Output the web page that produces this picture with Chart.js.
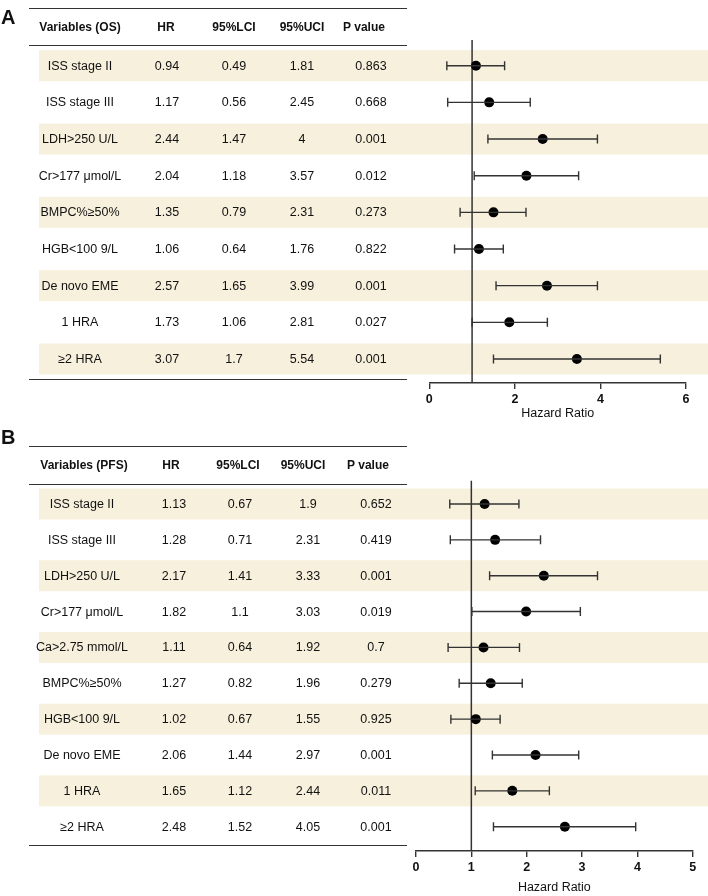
<!DOCTYPE html>
<html>
<head>
<meta charset="utf-8">
<script src="https://cdn.jsdelivr.net/npm/chart.js@4.4.1/dist/chart.umd.min.js"></script>
<style>
  html, body { margin:0; padding:0; width:708px; height:896px; overflow:hidden; background:#fff; }
  body { position:relative; font-family:"Liberation Sans", Arial, sans-serif; color:#111; }
  canvas { position:absolute; left:0; }
  .t { position:absolute; transform:translate(-50%,-50%); white-space:nowrap; font-size:12.5px; z-index:2; line-height:1; }
  .h { font-weight:bold; font-size:12px; }
  .rule { position:absolute; height:1px; background:#333; z-index:2; }
  .panel { position:absolute; font-weight:bold; font-size:20px; z-index:2; line-height:1; }
</style>
</head>
<body>
<div class="panel" style="left:1px;top:7px;">A</div>
<div class="panel" style="left:1px;top:427px;">B</div>
<canvas id="cA" width="708" height="430" style="top:0px"></canvas>
<canvas id="cB" width="708" height="470" style="top:430px"></canvas>
<script>
// ---------- Data: panel A (OS) ----------
const headersOS = ['Variables (OS)', 'HR', '95%LCI', '95%UCI', 'P value'];
const varsOS = ['ISS stage II','ISS stage III','LDH>250 U/L','Cr>177 μmol/L','BMPC%≥50%','HGB<100 9/L','De novo EME','1 HRA','≥2 HRA'];
const hrOS  = ['0.94','1.17','2.44','2.04','1.35','1.06','2.57','1.73','3.07'];
const lciOS = ['0.49','0.56','1.47','1.18','0.79','0.64','1.65','1.06','1.7'];
const uciOS = ['1.81','2.45','4','3.57','2.31','1.76','3.99','2.81','5.54'];
const pOS   = ['0.863','0.668','0.001','0.012','0.273','0.822','0.001','0.027','0.001'];
// plotted marks as drawn in the forest plot
const markHrOS = [1.09,1.40,2.65,2.27,1.50,1.16,2.75,1.87,3.45];
const markLoOS = [0.41,0.43,1.37,1.05,0.72,0.59,1.56,1.00,1.50];
const markHiOS = [1.76,2.36,3.93,3.49,2.26,1.73,3.93,2.76,5.40];
const ticksOS = [0,2,4,6];

// ---------- Data: panel B (PFS) ----------
const headersPFS = ['Variables (PFS)', 'HR', '95%LCI', '95%UCI', 'P value'];
const varsPFS = ['ISS stage II','ISS stage III','LDH>250 U/L','Cr>177 μmol/L','Ca>2.75 mmol/L','BMPC%≥50%','HGB<100 9/L','De novo EME','1 HRA','≥2 HRA'];
const hrPFS  = ['1.13','1.28','2.17','1.82','1.11','1.27','1.02','2.06','1.65','2.48'];
const lciPFS = ['0.67','0.71','1.41','1.1','0.64','0.82','0.67','1.44','1.12','1.52'];
const uciPFS = ['1.9','2.31','3.33','3.03','1.92','1.96','1.55','2.97','2.44','4.05'];
const pPFS   = ['0.652','0.419','0.001','0.019','0.7','0.279','0.925','0.001','0.011','0.001'];
const markHrPFS = [1.24,1.43,2.31,1.99,1.22,1.35,1.08,2.16,1.74,2.69];
const markLoPFS = [0.61,0.62,1.33,1.01,0.58,0.78,0.63,1.38,1.07,1.40];
const markHiPFS = [1.86,2.25,3.28,2.97,1.87,1.92,1.52,2.94,2.41,3.97];
const ticksPFS = [0,1,2,3,4,5];

const BAND = '#f7f0dc';
const INK = '#333';

const bandPlugin = {
  id: 'bands',
  beforeDraw(chart, args, opts) {
    const {ctx} = chart; const y = chart.scales.y;
    ctx.save(); ctx.fillStyle = BAND;
    for (let i = 0; i < opts.n; i += 2) {
      const py = y.getPixelForValue(i);
      ctx.fillRect(39, py - opts.half, chart.width - 39, opts.half * 2);
    }
    ctx.restore();
  }
};
const refPlugin = {
  id: 'refline',
  beforeDatasetsDraw(chart) {
    const {ctx, chartArea} = chart; const px = chart.scales.x.getPixelForValue(1);
    ctx.save(); ctx.strokeStyle = INK; ctx.lineWidth = 1.5;
    ctx.beginPath(); ctx.moveTo(px, chartArea.top); ctx.lineTo(px, chartArea.bottom); ctx.stroke();
    ctx.restore();
  }
};

function makeChart(id, lo, hr, hi, ticks, xmax, ymin, ymax, pad, axisH, titlePad, half) {
  const datasets = [];
  lo.forEach((v, i) => {
    datasets.push({
      type: 'scatter', showLine: true,
      data: [{x: lo[i], y: i}, {x: hi[i], y: i}],
      borderColor: INK, borderWidth: 1.4,
      pointStyle: 'line', rotation: 90, pointRadius: 4.5,
      pointBorderColor: INK, pointBorderWidth: 1.4, pointHoverRadius: 4.5
    });
  });
  datasets.push({
    type: 'scatter',
    data: hr.map((v, i) => ({x: v, y: i})),
    pointStyle: 'circle', pointRadius: 5, pointBackgroundColor: '#000', pointBorderColor: '#000', pointBorderWidth: 0
  });
  return new Chart(document.getElementById(id), {
    type: 'scatter',
    data: { datasets },
    options: {
      responsive: false, animation: false,
      plugins: { legend: {display: false}, tooltip: {enabled: false}, bands: {n: lo.length, half} },
      layout: { padding: pad },
      scales: {
        x: {
          type: 'linear', min: 0, max: xmax,
          afterBuildTicks: s => { s.ticks = ticks.map(v => ({value: v})); },
          afterFit: s => { s.height = axisH; },
          grid: { display: true, drawOnChartArea: false, drawTicks: true, tickLength: 6, color: INK, lineWidth: 1.4 },
          border: { display: true, color: INK, width: 1.4 },
          ticks: { color: '#111', padding: 3, font: {family: '"Liberation Sans", Arial', size: 12.5, weight: 'bold'} },
          title: { display: true, text: 'Hazard Ratio', color: '#111', padding: {top: 0, bottom: titlePad},
                   font: {family: '"Liberation Sans", Arial', size: 12.5, weight: 'normal', lineHeight: 1.2} }
        },
        y: { type: 'linear', display: false, reverse: true, min: ymin, max: ymax }
      }
    },
    plugins: [bandPlugin, refPlugin]
  });
}

const chartA = makeChart('cA', markLoOS, markHrOS, markHiOS, ticksOS, 6, -0.701, 8.655,
  {left: 429.3, right: 22, top: 40, bottom: 0}, 47, 8.5, 15.5);
const chartB = makeChart('cB', markLoPFS, markHrPFS, markHiPFS, ticksPFS, 5, -0.650, 9.678,
  {left: 416, right: 15.3, top: 50.7, bottom: 0}, 49, 4.5, 15.5);

function addText(txt, x, y, cls) {
  const d = document.createElement('div');
  d.className = 't' + (cls ? ' ' + cls : '');
  d.textContent = txt; d.style.left = x + 'px'; d.style.top = y + 'px';
  document.body.appendChild(d);
}
function addRule(y) {
  const d = document.createElement('div');
  d.className = 'rule'; d.style.left = '29px'; d.style.width = '378px'; d.style.top = (y - 0.5) + 'px';
  document.body.appendChild(d);
}
function buildTable(chart, top, headers, cols, headY, hX, dX, rules) {
  headers.forEach((h, j) => addText(h, hX[j], headY, 'h'));
  const y = chart.scales.y;
  cols[0].forEach((_, i) => {
    const py = y.getPixelForValue(i) + top;
    cols.forEach((col, j) => addText(col[i], dX[j], py));
  });
  rules.forEach(addRule);
}
buildTable(chartA, 0, headersOS, [varsOS, hrOS, lciOS, uciOS, pOS], 27,
  [80, 166, 234, 302, 364], [80, 167, 234, 302, 371], [8, 45.7, 379.3]);
buildTable(chartB, 430, headersPFS, [varsPFS, hrPFS, lciPFS, uciPFS, pPFS], 465,
  [84, 171, 238, 303, 368], [82, 174, 240, 308, 376], [446, 484.3, 845.7]);
</script>
</body>
</html>
